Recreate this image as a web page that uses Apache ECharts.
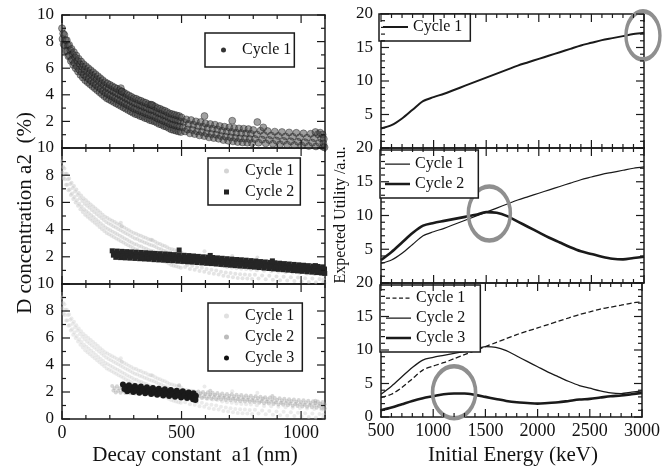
<!DOCTYPE html>
<html><head><meta charset="utf-8">
<script src="https://cdn.jsdelivr.net/npm/echarts@6/dist/echarts.min.js"></script>
<style>html,body{margin:0;padding:0;background:#fff}#c{width:663px;height:467px}</style>
</head><body><div id="c"></div>
<script>
// ---------- DATA ----------
const energy = [500,600,700,800,900,1000,1100,1200,1300,1400,1500,1600,1700,1800,1900,2000,2100,2200,2300,2400,2500,2600,2700,2800,2900,3000];
const utilityCycle1 = [2.9,3.4,4.4,5.7,7.0,7.6,8.1,8.7,9.3,9.9,10.5,11.1,11.7,12.3,12.8,13.3,13.8,14.3,14.8,15.3,15.7,16.1,16.4,16.7,17.0,17.2];
const utilityCycle2 = [3.4,4.6,6.0,7.4,8.5,8.9,9.2,9.5,9.8,10.1,10.5,10.4,9.9,9.1,8.3,7.5,6.7,6.0,5.3,4.7,4.3,3.9,3.6,3.5,3.7,3.9];
const utilityCycle3 = [1.0,1.4,1.9,2.4,2.8,3.1,3.4,3.5,3.5,3.3,3.0,2.7,2.4,2.2,2.1,2.0,2.1,2.2,2.4,2.6,2.7,2.9,3.1,3.2,3.4,3.6];
// highlighted spots (gray ellipses) in the right column: [energy, utility]
const highlightCycle1 = [[2990,16.8]];
const highlightCycle2 = [[1530,10.3]];
const highlightCycle3 = [[1200,3.7]];

// tick values
const decayTicks = [0,100,200,300,400,500,600,700,800,900,1000,1100];
const concTicks = [0,1,2,3,4,5,6,7,8,9,10];
const energyTicks = [500,600,700,800,900,1000,1100,1200,1300,1400,1500,1600,1700,1800,1900,2000,2100,2200,2300,2400,2500,2600,2700,2800,2900,3000];
const utilityTicks = [0,1,2,3,4,5,6,7,8,9,10,11,12,13,14,15,16,17,18,19,20];

// decay constant a1 (nm), D concentration a2 (%)
const scatterCycle1 = [
[0,9.0],[5,8.6],[2,8.2],[7,7.8],[10,8.5],[15,8.1],[12,7.7],[17,7.3],[20,8.1],[25,7.7],[22,7.3],[27,6.9],
[30,7.75],[35,7.35],[32,6.95],[37,6.55],[40,7.45],[45,7.05],[42,6.65],[47,6.25],[50,7.2],[55,6.8],[52,6.4],[57,6.0],
[60,6.95],[65,6.55],[62,6.15],[67,5.75],[70,6.7],[75,6.3],[72,5.9],[77,5.5],[80,6.5],[85,6.1],[82,5.7],[87,5.3],
[90,6.3],[95,5.9],[92,5.5],[97,5.1],[100,6.15],[105,5.75],[102,5.35],[107,4.95],[110,6.0],[115,5.6],[112,5.2],[117,4.8],
[120,5.85],[125,5.45],[122,5.05],[127,4.65],[130,5.7],[135,5.3],[132,4.9],[137,4.5],[140,5.55],[145,5.15],[142,4.75],[147,4.35],
[150,5.4],[155,5.0],[152,4.6],[157,4.2],[160,5.25],[165,4.85],[162,4.45],[167,4.05],[170,5.1],[175,4.7],[172,4.3],[177,3.9],
[180,4.95],[185,4.55],[182,4.15],[187,3.75],[190,4.85],[195,4.45],[192,4.05],[197,3.65],[200,4.75],[205,4.35],[202,3.95],[207,3.55],
[210,4.65],[215,4.25],[212,3.85],[217,3.45],[220,4.55],[225,4.15],[222,3.75],[227,3.35],[230,4.45],[235,4.05],[232,3.65],[237,3.25],
[240,4.35],[245,3.95],[242,3.55],[247,3.15],[250,4.25],[255,3.85],[252,3.45],[257,3.05],[260,4.15],[265,3.75],[262,3.35],[267,2.95],
[270,4.05],[275,3.65],[272,3.25],[277,2.85],[280,3.95],[285,3.55],[282,3.15],[287,2.75],[290,3.85],[295,3.45],[292,3.05],[297,2.65],
[300,3.75],[305,3.35],[302,2.95],[307,2.55],[310,3.7],[315,3.3],[312,2.9],[317,2.5],[320,3.6],[325,3.2],[322,2.8],[327,2.4],
[330,3.55],[335,3.15],[332,2.75],[337,2.35],[340,3.45],[345,3.05],[342,2.65],[347,2.25],[350,3.4],[355,3.0],[352,2.6],[357,2.2],
[360,3.3],[365,2.9],[362,2.5],[367,2.1],[370,3.25],[375,2.85],[372,2.45],[377,2.05],[380,3.2],[385,2.8],[382,2.4],[387,2.0],
[390,3.1],[395,2.7],[392,2.3],[397,1.9],[400,3.0],[405,2.6],[402,2.2],[407,1.8],[410,2.95],[415,2.55],[412,2.15],[417,1.75],
[420,2.85],[425,2.45],[422,2.05],[427,1.65],[430,2.8],[435,2.4],[432,2.0],[437,1.6],[440,2.7],[445,2.3],[442,1.9],[447,1.5],
[450,2.6],[455,2.2],[452,1.8],[457,1.4],[460,2.55],[465,2.15],[462,1.75],[467,1.35],[470,2.5],[475,2.1],[472,1.7],[477,1.3],
[480,2.45],[485,2.05],[482,1.65],[487,1.25],[490,2.4],[495,2.0],[492,1.6],[497,1.2],
[500,2.3],[510,1.95],[505,1.55],[515,1.25],[520,2.15],[530,1.8],[525,1.4],[535,1.1],[540,2.1],[550,1.75],[545,1.35],[555,1.05],
[560,2.0],[570,1.65],[565,1.25],[575,0.95],[580,1.95],[590,1.6],[585,1.2],[595,0.9],[600,1.85],[610,1.5],[605,1.1],[615,0.8],
[620,1.8],[630,1.45],[625,1.05],[635,0.75],[640,1.75],[650,1.4],[645,1.0],[655,0.7],[660,1.65],[670,1.3],[665,0.9],[675,0.6],
[680,1.6],[690,1.25],[685,0.85],[695,0.55],[700,1.55],[710,1.2],[705,0.8],[715,0.5],[720,1.5],[730,1.15],[725,0.75],[735,0.45],
[740,1.47],[750,1.12],[745,0.72],[755,0.42],[760,1.45],[770,1.1],[765,0.7],[775,0.4],[780,1.42],[790,1.07],[785,0.67],[795,0.37],
[800,1.35],[815,1.02],[807,0.68],[822,0.4],[830,1.3],[845,0.97],[837,0.63],[852,0.35],[860,1.27],[875,0.94],[867,0.6],[882,0.32],
[890,1.23],[905,0.9],[897,0.56],[912,0.28],[920,1.2],[935,0.87],[927,0.53],[942,0.25],[950,1.17],[965,0.84],[957,0.5],[972,0.22],
[980,1.14],[995,0.81],[987,0.47],[1002,0.19],[1010,1.1],[1025,0.77],[1017,0.43],[1032,0.15],[1040,1.07],[1055,0.74],[1047,0.4],[1062,0.12],
[1070,1.04],[1085,0.71],[1077,0.37],[1092,0.09],[1090,1.01],[1095,0.68],[1093,0.34],[1098,0.06],
[246,4.5],[250,4.25],[375,3.25],[596,2.4],[712,2.05],[817,1.95],[842,1.55],[1060,1.2],[1080,1.15]
];
const scatterCycle2 = [
[210,2.44],[220,2.28],[215,2.12],[225,1.96],[230,2.42],[240,2.26],[235,2.10],[245,1.94],[250,2.40],[260,2.24],[255,2.08],[265,1.92],
[270,2.38],[280,2.22],[275,2.06],[285,1.90],[290,2.36],[300,2.20],[295,2.04],[305,1.88],[310,2.34],[320,2.18],[315,2.02],[325,1.86],
[330,2.32],[340,2.16],[335,2.00],[345,1.84],[350,2.30],[360,2.14],[355,1.98],[365,1.82],[370,2.27],[380,2.11],[375,1.95],[385,1.79],
[390,2.25],[400,2.09],[395,1.93],[405,1.77],[410,2.23],[420,2.07],[415,1.91],[425,1.75],[430,2.21],[440,2.05],[435,1.89],[445,1.73],
[450,2.19],[460,2.03],[455,1.87],[465,1.71],[470,2.16],[480,2.00],[475,1.84],[485,1.68],[490,2.14],[500,1.98],[495,1.82],[505,1.66],
[510,2.11],[520,1.95],[515,1.79],[525,1.63],[530,2.09],[540,1.93],[535,1.77],[545,1.61],[550,2.06],[560,1.90],[555,1.74],[565,1.58],
[570,2.03],[580,1.87],[575,1.71],[585,1.55],[590,2.00],[600,1.84],[595,1.68],[605,1.52],[610,1.98],[620,1.82],[615,1.66],[625,1.50],
[630,1.95],[640,1.79],[635,1.63],[645,1.47],[650,1.92],[660,1.76],[655,1.60],[665,1.44],[670,1.89],[680,1.73],[675,1.57],[685,1.41],
[690,1.86],[700,1.70],[695,1.54],[705,1.38],[710,1.83],[720,1.67],[715,1.51],[725,1.35],[730,1.80],[740,1.64],[735,1.48],[745,1.32],
[750,1.78],[760,1.62],[755,1.46],[765,1.30],[770,1.75],[780,1.59],[775,1.43],[785,1.27],[790,1.72],[800,1.56],[795,1.40],[805,1.24],
[810,1.69],[820,1.53],[815,1.37],[825,1.21],[830,1.65],[840,1.49],[835,1.33],[845,1.17],[850,1.62],[860,1.46],[855,1.30],[865,1.14],
[870,1.59],[880,1.43],[875,1.27],[885,1.11],[890,1.56],[900,1.40],[895,1.24],[905,1.08],[910,1.53],[920,1.37],[915,1.21],[925,1.05],
[930,1.50],[940,1.34],[935,1.18],[945,1.02],[950,1.47],[960,1.31],[955,1.15],[965,0.99],[970,1.44],[980,1.28],[975,1.12],[985,0.96],
[990,1.41],[1000,1.25],[995,1.09],[1005,0.93],[1010,1.38],[1020,1.22],[1015,1.06],[1025,0.90],[1030,1.35],[1040,1.19],[1035,1.03],[1045,0.87],
[1050,1.32],[1060,1.16],[1055,1.00],[1065,0.84],[1070,1.29],[1080,1.13],[1075,0.97],[1085,0.81],[1090,1.26],[1098,1.10],[1095,0.94],[1099,0.78],
[490,2.5],[620,2.1],[880,1.7],[1060,1.35]
];
const scatterCycle3 = [
[255,2.55],[267,2.38],[261,2.22],[273,2.05],[280,2.50],[292,2.33],[286,2.17],[298,2.00],[305,2.45],[317,2.28],[311,2.12],[323,1.95],
[330,2.40],[342,2.23],[336,2.07],[348,1.90],[355,2.35],[367,2.18],[361,2.02],[373,1.85],[380,2.30],[392,2.13],[386,1.97],[398,1.80],
[405,2.25],[417,2.08],[411,1.92],[423,1.75],[430,2.20],[442,2.03],[436,1.87],[448,1.70],[455,2.15],[467,1.98],[461,1.82],[473,1.65],
[480,2.10],[492,1.93],[486,1.77],[498,1.60],[505,2.05],[517,1.88],[511,1.72],[523,1.55],[530,1.97],[542,1.80],[536,1.64],[548,1.47],
[550,1.90],[560,1.73],[555,1.57],[558,1.40]
];

// ---------- STYLE HELPERS ----------
const FONT = "'Liberation Serif','Times New Roman',serif";
const INK = '#1a1a1a';
const plain = v => String(v);

const leftGrids = [
  {left:62, top:15, width:263, height:133},
  {left:62, top:148, width:263, height:136},
  {left:62, top:284, width:263, height:135}
];
const rightGrids = [
  {left:381, top:14, width:263, height:134},
  {left:381, top:148, width:263, height:135},
  {left:381, top:283, width:263, height:134}
];
const grid = leftGrids.concat(rightGrids);

const xAxis = [], yAxis = [];
function addAxes(gi, xr, yr, showX, showMinY) {
  const mk = (pos, isX, labelOpt) => ({
    gridIndex:gi, type:'value', position:pos,
    min: isX ? xr[0] : yr[0], max: isX ? xr[1] : yr[1], interval: isX ? xr[2] : yr[2],
    splitLine:{show:false},
    axisLine:{show:true, onZero:false, lineStyle:{color: INK, width: 1.5}},
    axisTick:{show:false}, minorTick:{show:false},
    axisLabel: labelOpt
  });
  xAxis.push(mk('bottom', true, {show: showX, margin:5, fontFamily:FONT, fontSize:18, color:'#111', formatter: plain}));
  xAxis.push(mk('top', true, {show:false}));
  yAxis.push(mk('left', false, {show:true, showMinLabel: showMinY, margin:8, fontFamily:FONT, fontSize:17, color:'#111', formatter: plain}));
  yAxis.push(mk('right', false, {show:false}));
}
[0,1,2].forEach(i => addAxes(i, [0,1100,500], [0,10,2], i === 2, i === 2));
[0,1,2].forEach(j => addAxes(j + 3, [500,3000,500], [0,20,5], j === 2, j === 2));

const ax = g => 2 * g;   // main (bottom/left) axis index of grid g

const pairs = arr => energy.map((e, k) => [e, arr[k]]);
function lineSeries(name, j, arr, width, type) {
  return {type:'line', name, xAxisIndex: ax(j + 3), yAxisIndex: ax(j + 3), data: pairs(arr),
    smooth: 0.3, symbol:'none', showSymbol:false, lineStyle:{color: INK, width, type: type || 'solid'},
    itemStyle:{color: INK}, z: 3, silent:true};
}
function scatterSeries(name, g, data, symbol, size, color, border, z) {
  const itemStyle = {color, opacity: 1};
  if (border) { itemStyle.borderColor = border; itemStyle.borderWidth = 0.8; }
  return {type:'scatter', name, xAxisIndex: ax(g), yAxisIndex: ax(g), data, symbol, symbolSize: size,
    itemStyle, z: z || 2, silent:true};
}
function ring(j, data, size) {
  return {type:'scatter', name:'ring' + j, xAxisIndex: ax(j + 3), yAxisIndex: ax(j + 3), data, symbol:'circle',
    symbolSize: size, clip:false, z: 6, silent:true,
    itemStyle:{color:'rgba(0,0,0,0)', borderColor:'#8f8f8f', borderWidth:4, opacity: 1}};
}

const series = [
  lineSeries('Cycle 1', 0, utilityCycle1, 2),
  lineSeries('Cycle 1', 1, utilityCycle1, 1.2),
  lineSeries('Cycle 2', 1, utilityCycle2, 2.6),
  lineSeries('Cycle 1', 2, utilityCycle1, 1.3, 'dashed'),
  lineSeries('Cycle 2', 2, utilityCycle2, 1.3),
  lineSeries('Cycle 3', 2, utilityCycle3, 2.6),
  scatterSeries('Cycle 1', 0, scatterCycle1, 'circle', 7, 'rgba(65,65,65,0.5)', 'rgba(20,20,20,0.5)'),
  scatterSeries('Cycle 1', 1, scatterCycle1, 'circle', 4, 'rgba(195,195,195,0.45)'),
  scatterSeries('Cycle 2', 1, scatterCycle2, 'rect', 5, '#262626', null, 3),
  scatterSeries('Cycle 1', 2, scatterCycle1, 'circle', 4, 'rgba(205,205,205,0.4)'),
  scatterSeries('Cycle 2', 2, scatterCycle2, 'circle', 4, 'rgba(165,165,165,0.45)'),
  scatterSeries('Cycle 3', 2, scatterCycle3, 'circle', 6, '#1a1a1a', null, 3),
  ring(0, highlightCycle1, [34, 48]),
  ring(1, highlightCycle2, [42, 54]),
  ring(2, highlightCycle3, [43, 52])
];

const legText = {fontFamily:FONT, fontSize:16, color:'#111', lineHeight:18};
function legend(left, top, padding, itemWidth, itemHeight, itemGap, data) {
  return {show:true, orient:'vertical', left, top, padding, itemWidth, itemHeight, itemGap,
    borderColor: INK, borderWidth: 1.5, backgroundColor:'#fff', borderRadius:0,
    selectedMode:false, textStyle: legText, data, z: 8};
}
// legend icons drawn inside fixed boxes (corner specks pin the box size)
const C0 = 'M0,0h0.01v0.01h-0.01z M24.99,13.99h0.01v0.01h-0.01z ';
const ICON_THIN = 'path://' + C0 + 'M0,6.4h25v1.3h-25z';
const ICON_MID = 'path://' + C0 + 'M0,6h25v2h-25z';
const ICON_THICK = 'path://' + C0 + 'M0,5.7h25v2.6h-25z';
const ICON_DASH = 'path://' + C0 + 'M0,6.4h4v1.3h-4z M6.5,6.4h4v1.3h-4z M13,6.4h4v1.3h-4z M19.5,6.4h4v1.3h-4z';
const D0 = 'M0,0h0.01v0.01h-0.01z M29.99,4.99h0.01v0.01h-0.01z ';
const ICON_DOT = 'path://' + D0 + 'M14,2.5a2.5,2.5 0 1,0 5,0a2.5,2.5 0 1,0 -5,0z';
const ICON_SQ = 'path://' + D0 + 'M14,0h5v5h-5z';
const ink = {color: INK, borderWidth: 0};
const legendList = [
  legend(205, 33, [8,3,8,2], 30, 5, 3, [{name:'Cycle 1', icon:ICON_DOT, itemStyle:{color:'#333', borderWidth:0}}]),
  legend(208, 158, [4,6,4,2], 30, 5, 3, [
    {name:'Cycle 1', icon:ICON_DOT, itemStyle:{color:'#d4d4d4', borderWidth:0}},
    {name:'Cycle 2', icon:ICON_SQ, itemStyle:{color:'#222', borderWidth:0}}]),
  legend(208, 303, [4,8,4,2], 30, 5, 3, [
    {name:'Cycle 1', icon:ICON_DOT, itemStyle:{color:'#e0e0e0', borderWidth:0}},
    {name:'Cycle 2', icon:ICON_DOT, itemStyle:{color:'#bbbbbb', borderWidth:0}},
    {name:'Cycle 3', icon:ICON_DOT, itemStyle:{color:'#111', borderWidth:0}}]),
  legend(379, 14, [4,8,5,4], 25, 14, 2, [{name:'Cycle 1', icon:ICON_MID, itemStyle:ink}]),
  legend(380, 150, [5,14,5,5], 25, 14, 2, [
    {name:'Cycle 1', icon:ICON_THIN, itemStyle:ink},
    {name:'Cycle 2', icon:ICON_THICK, itemStyle:ink}]),
  legend(380, 285, [4,15,5,6], 25, 14, 2, [
    {name:'Cycle 1', icon:ICON_DASH, itemStyle:ink},
    {name:'Cycle 2', icon:ICON_THIN, itemStyle:ink},
    {name:'Cycle 3', icon:ICON_THICK, itemStyle:ink}])
];

const titleStyle = (text, size) => ({text, fontFamily:FONT, fontSize:size, fill:'#111', textAlign:'center', textVerticalAlign:'middle'});
const titles = [
  {type:'text', x:195, y:455, style: titleStyle('Decay constant  a1 (nm)', 21), z: 10},
  {type:'text', x:513, y:455, style: titleStyle('Initial Energy (keV)', 21), z: 10},
  {type:'text', x:25, y:213, rotation: Math.PI/2, style: titleStyle('D concentration a2  (%)', 21), z: 10},
  {type:'text', x:341, y:215, rotation: Math.PI/2, style: titleStyle('Expected Utility /a.u.', 16), z: 10}
];

const chart = echarts.init(document.getElementById('c'), null, {renderer:'canvas'});
chart.setOption({
  backgroundColor:'#fff', animation:false,
  grid, xAxis, yAxis, series, legend: legendList, graphic: titles
});

// inward tick marks on all four sides of each panel, positioned through the grid's own scales
const tickEls = [];
function frameTicks(g, xt, yt, xr, yr, xMajor, yMajor) {
  const px = (x, y) => chart.convertToPixel({gridIndex: g}, [x, y]);
  const st = {stroke: INK, lineWidth: 1.2};
  xt.forEach(v => {
    const len = (v % xMajor === 0) ? 8 : 4;
    const b = px(v, yr[0]), t = px(v, yr[1]);
    if (!b || !t) return;
    tickEls.push({type:'line', silent:true, z:9, shape:{x1:b[0], y1:b[1], x2:b[0], y2:b[1] - len}, style: st});
    tickEls.push({type:'line', silent:true, z:9, shape:{x1:t[0], y1:t[1], x2:t[0], y2:t[1] + len}, style: st});
  });
  yt.forEach(v => {
    const len = (v % yMajor === 0) ? 8 : 4;
    const l = px(xr[0], v), r = px(xr[1], v);
    if (!l || !r) return;
    tickEls.push({type:'line', silent:true, z:9, shape:{x1:l[0], y1:l[1], x2:l[0] + len, y2:l[1]}, style: st});
    tickEls.push({type:'line', silent:true, z:9, shape:{x1:r[0], y1:r[1], x2:r[0] - len, y2:r[1]}, style: st});
  });
}
try {
  [0,1,2].forEach(g => frameTicks(g, decayTicks, concTicks, [0,1100], [0,10], 500, 2));
  [3,4,5].forEach(g => frameTicks(g, energyTicks, utilityTicks, [500,3000], [0,20], 500, 5));
  chart.setOption({graphic: titles.concat(tickEls)});
} catch (e) { console.error(e); }
</script></body></html>
